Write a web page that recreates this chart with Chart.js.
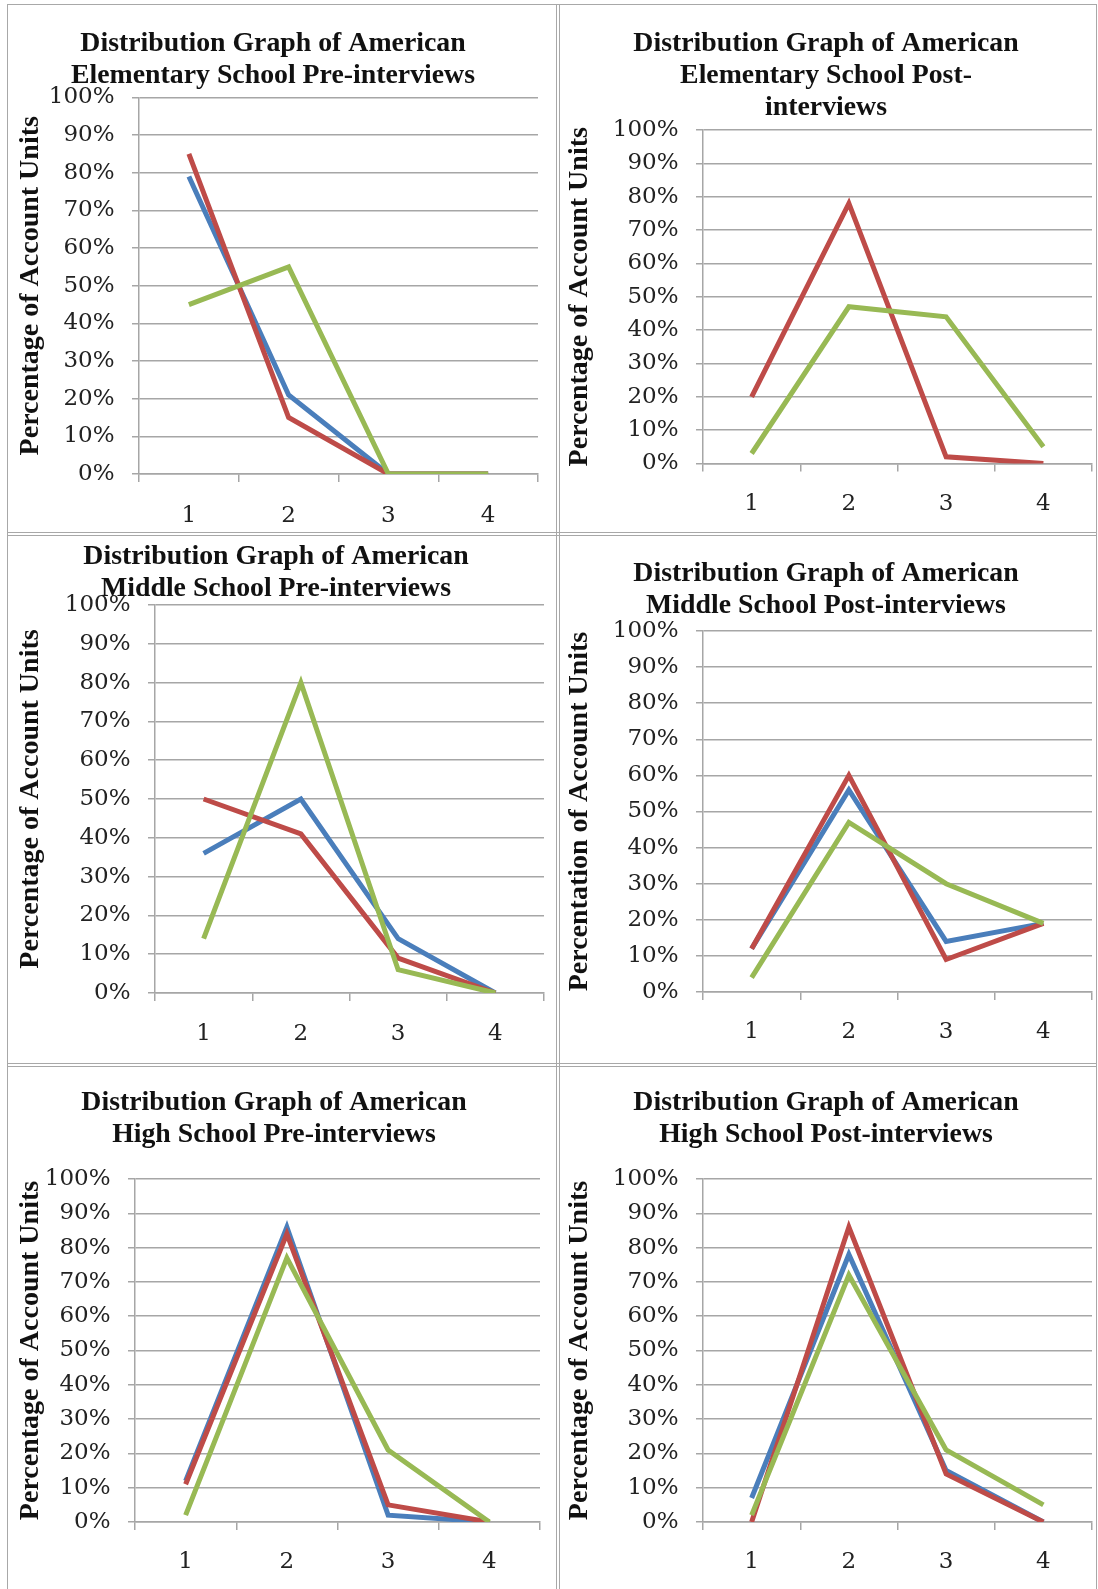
<!DOCTYPE html>
<html>
<head>
<meta charset="utf-8">
<script src="https://cdn.jsdelivr.net/npm/chart.js@4.4.1/dist/chart.umd.min.js"></script>
<style>
body { margin: 0; background: #fff; }
#page { position: relative; width: 1098px; height: 1589px; overflow: hidden; background: #fff; }
.cell { position: absolute; }
.rule { position: absolute; background: #a8a8a8; }
</style>
</head>
<body>
<div id="page"></div>
<script>
// x categories and y tick values
const categories = ['1', '2', '3', '4'];
const yTickValues = [0, 10, 20, 30, 40, 50, 60, 70, 80, 90, 100];

// values, in percent
const elemPreBlue = [79, 21, 0, 0];
const elemPreRed = [85, 15, 0, 0];
const elemPreGreen = [45, 55, 0, 0];

const elemPostRed = [20, 78, 2, 0];
const elemPostGreen = [3, 47, 44, 5];

const midPreBlue = [36, 50, 14, 0];
const midPreRed = [50, 41, 9, 0];
const midPreGreen = [14, 80, 6, 0];

const midPostBlue = [12, 56, 14, 19];
const midPostRed = [12, 60, 9, 19];
const midPostGreen = [4, 47, 30, 19];

const highPreBlue = [12, 86, 2, 0];
const highPreRed = [11, 84, 5, 0];
const highPreGreen = [2, 77, 21, 0];

const highPostBlue = [7, 78, 15, 0];
const highPostRed = [0, 86, 14, 0];
const highPostGreen = [2, 72, 21, 5];

const BLUE = '#4a7ebb';
const RED = '#be4b48';
const GREEN = '#98b954';
const GRID = '#a6a6a6';

const page = document.getElementById('page');

// table rules (double lines between cells)
function rule(x, y, w, h) {
    const d = document.createElement('div');
    d.className = 'rule';
    d.style.left = x + 'px'; d.style.top = y + 'px';
    d.style.width = w + 'px'; d.style.height = h + 'px';
    page.appendChild(d);
}
rule(7, 4, 1, 1585);
rule(556, 4, 1, 1585);
rule(559, 4, 1, 1585);
rule(1096, 4, 1, 1585);
rule(7, 4, 1090, 1);
rule(7, 532, 1090, 1);
rule(7, 535, 1090, 1);
rule(7, 1063, 1090, 1);
rule(7, 1066, 1090, 1);

function line(label, data, color, order) {
    return {
        label: label,
        data: data,
        borderColor: color,
        backgroundColor: color,
        borderWidth: 5,
        pointRadius: 0,
        tension: 0,
        fill: false,
        order: order
    };
}

function createChart(g, titleLines, yTitle, datasets) {
    const box = document.createElement('div');
    box.className = 'cell';
    box.style.left = g.x + 'px';
    box.style.top = g.y + 'px';
    const canvas = document.createElement('canvas');
    canvas.width = g.w;
    canvas.height = g.h;
    box.appendChild(canvas);
    page.appendChild(box);

    const tickFont = { family: 'DejaVu Serif', size: 23 };

    new Chart(canvas, {
        type: 'line',
        data: { labels: categories, datasets: datasets },
        options: {
            responsive: false,
            animation: false,
            devicePixelRatio: 1,
            layout: { padding: { left: 0, top: 0, right: g.padRight, bottom: 0 } },
            plugins: {
                legend: { display: false },
                tooltip: { enabled: false },
                title: {
                    display: true,
                    text: titleLines,
                    color: '#111',
                    font: { family: 'Liberation Serif', size: 27.8, weight: 'bold', lineHeight: '32px' },
                    padding: { top: g.titleTop, bottom: g.titleBottom }
                }
            },
            scales: {
                x: {
                    offset: true,
                    grid: { offset: true, drawOnChartArea: false, drawTicks: true, tickLength: 8, color: GRID, lineWidth: 1.5 },
                    border: { display: true, color: GRID, width: 1.5 },
                    ticks: { color: '#222', font: tickFont, padding: g.xPad, maxRotation: 0 },
                    afterFit: function (s) { s.height = g.xHeight; }
                },
                y: {
                    min: 0,
                    max: 100,
                    afterBuildTicks: function (s) { s.ticks = yTickValues.map(v => ({ value: v })); },
                    ticks: { color: '#222', font: tickFont, padding: 17.5, callback: v => v + '%' },
                    grid: { color: GRID, lineWidth: 1.5, tickLength: 7 },
                    border: { color: GRID, width: 1.5 },
                    title: {
                        display: true,
                        text: yTitle,
                        color: '#111',
                        font: { family: 'Liberation Serif', size: 28, weight: 'bold', lineHeight: 1.2 },
                        padding: { top: g.yTitlePad, bottom: 0 }
                    },
                    afterFit: function (s) { s.width = g.left; }
                }
            }
        }
    });
}

const yTitle = 'Percentage of Account Units';

createChart(
    { x: 8, y: 5, w: 548, h: 527, left: 131, padRight: 18, titleTop: 22.6, titleBottom: 5.9, xHeight: 58, xPad: 20.5, yTitlePad: 5.6 },
    ['Distribution Graph of American', 'Elementary School Pre-interviews'], yTitle,
    [line('Blue', elemPreBlue, BLUE, 3), line('Red', elemPreRed, RED, 2), line('Green', elemPreGreen, GREEN, 1)]
);

createChart(
    { x: 560, y: 5, w: 536, h: 527, left: 143, padRight: 4, titleTop: 22.6, titleBottom: 6.4, xHeight: 68.5, xPad: 18.8, yTitlePad: 3.2 },
    ['Distribution Graph of American', 'Elementary School Post-', 'interviews'], yTitle,
    [line('Red', elemPostRed, RED, 2), line('Green', elemPostGreen, GREEN, 1)]
);

createChart(
    { x: 8, y: 536, w: 548, h: 527, left: 147, padRight: 12, titleTop: 4.6, titleBottom: 0.4, xHeight: 70, xPad: 19.5, yTitlePad: 5.6 },
    ['Distribution Graph of American', 'Middle School Pre-interviews'], yTitle,
    [line('Blue', midPreBlue, BLUE, 3), line('Red', midPreRed, RED, 2), line('Green', midPreGreen, GREEN, 1)]
);

createChart(
    { x: 560, y: 536, w: 536, h: 527, left: 143, padRight: 4, titleTop: 22, titleBottom: 9, xHeight: 71, xPad: 18.5, yTitlePad: 3.2 },
    ['Distribution Graph of American', 'Middle School Post-interviews'], 'Percentation of Account Units',
    [line('Blue', midPostBlue, BLUE, 3), line('Red', midPostRed, RED, 2), line('Green', midPostGreen, GREEN, 1)]
);

createChart(
    { x: 8, y: 1067, w: 548, h: 522, left: 127, padRight: 16, titleTop: 20, titleBottom: 28, xHeight: 67, xPad: 18.5, yTitlePad: 5.6 },
    ['Distribution Graph of American', 'High School Pre-interviews'], yTitle,
    [line('Blue', highPreBlue, BLUE, 3), line('Red', highPreRed, RED, 2), line('Green', highPreGreen, GREEN, 1)]
);

createChart(
    { x: 560, y: 1067, w: 536, h: 522, left: 143, padRight: 4, titleTop: 20, titleBottom: 28, xHeight: 67, xPad: 18.5, yTitlePad: 3.2 },
    ['Distribution Graph of American', 'High School Post-interviews'], yTitle,
    [line('Blue', highPostBlue, BLUE, 3), line('Red', highPostRed, RED, 2), line('Green', highPostGreen, GREEN, 1)]
);
</script>
</body>
</html>
